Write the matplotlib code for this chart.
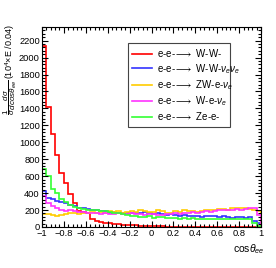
import numpy as np
import matplotlib
matplotlib.use("Agg")
import matplotlib.pyplot as plt
from matplotlib.ticker import MultipleLocator

plt.rcParams['font.family'] = ['Liberation Sans', 'DejaVu Sans']
plt.rcParams['mathtext.fontset'] = 'custom'
plt.rcParams['mathtext.rm'] = 'Liberation Sans'
plt.rcParams['mathtext.it'] = 'Liberation Sans:italic'
plt.rcParams['mathtext.fallback'] = 'stixsans'

# 50 bins of cos(theta_ee) from -1 to 1 (width 0.04)
edges = np.linspace(-1, 1, 51)

ww = [2140, 1420, 1100, 850, 640, 515, 385, 280, 190, 175,
      160, 90, 70, 55, 50, 42, 38, 32, 28, 25,
      20, 18, 15, 12, 10, 8, 7, 6, 5, 4,
      3, 3, 2, 2, 2, 1, 1, 1, 1, 1,
      1, 0, 0, 0, 0, 0, 0, 0, 0, 0]
wwnn = [424, 345, 330, 310, 300, 280, 260, 245, 230, 225,
        210, 200, 195, 185, 190, 170, 175, 165, 170, 160,
        170, 165, 160, 175, 160, 150, 165, 155, 140, 150,
        145, 130, 140, 125, 135, 130, 120, 135, 125, 130,
        115, 125, 120, 110, 115, 120, 110, 115, 70, 50]
zwen = [158, 150, 140, 135, 140, 150, 165, 160, 155, 165,
        170, 175, 165, 180, 170, 185, 175, 190, 170, 180,
        185, 175, 205, 190, 180, 175, 200, 185, 165, 160,
        185, 180, 200, 190, 185, 175, 190, 195, 205, 200,
        210, 215, 205, 225, 230, 220, 225, 215, 200, 190]
wen = [365, 287, 250, 230, 200, 190, 195, 185, 180, 175,
       165, 160, 165, 155, 160, 150, 155, 160, 150, 155,
       160, 150, 155, 145, 150, 155, 140, 145, 150, 150,
       160, 155, 165, 170, 175, 170, 180, 185, 180, 190,
       195, 200, 195, 205, 210, 205, 215, 220, 225, 140]
zee = [680, 600, 450, 400, 330, 290, 260, 240, 230, 215,
       205, 200, 195, 190, 185, 175, 170, 160, 150, 140,
       125, 130, 120, 115, 125, 110, 120, 115, 110, 105,
       110, 100, 105, 100, 105, 100, 95, 100, 95, 100,
       95, 90, 95, 90, 95, 90, 95, 90, 50, 12]

labels = [r'e-e-$\longrightarrow$ W-W-',
          r'e-e-$\longrightarrow$ W-W-$\nu_e\nu_e$',
          r'e-e-$\longrightarrow$ ZW-e-$\nu_e$',
          r'e-e-$\longrightarrow$ W-e-$\nu_e$',
          r'e-e-$\longrightarrow$ Ze-e-']
colors = ['#ff0000', '#3333ff', '#ffcc00', '#ff33ff', '#33ff33']
series = [ww, wwnn, zwen, wen, zee]

fig = plt.figure(figsize=(2.76, 2.68), dpi=100)
ax = fig.add_axes([0.152, 0.153, 0.794, 0.746])

for vals, col, lab in zip(series, colors, labels):
    ax.stairs(vals, edges, color=col, lw=1.2, label=lab)

ax.set_xlim(-1, 1)
ax.set_ylim(0, 2360)
ax.xaxis.set_major_locator(MultipleLocator(0.2))
ax.xaxis.set_minor_locator(MultipleLocator(0.04))
ax.yaxis.set_major_locator(MultipleLocator(200))
ax.yaxis.set_minor_locator(MultipleLocator(40))
ax.tick_params(which='both', direction='in', top=True, right=True,
               labelsize=6.7, width=0.8, pad=1.5)
ax.tick_params(which='major', length=4.5)
ax.tick_params(which='minor', length=2.2)
ax.set_xticks(np.arange(-1, 1.01, 0.2))
ax.set_xticklabels(['\u22121', '\u22120.8', '\u22120.6', '\u22120.4', '\u22120.2',
                    '0', '0.2', '0.4', '0.6', '0.8', '1'])
for s in ax.spines.values():
    s.set_linewidth(0.8)

leg = ax.legend(loc='upper left', bbox_to_anchor=(0.37, 0.945, 0.51, 0.0),
                mode='expand', fontsize=7, handlelength=2.0, handletextpad=0.5,
                labelspacing=0.25, borderpad=0.45, fancybox=False, framealpha=1,
                edgecolor='#444444')
leg.get_frame().set_linewidth(0.8)

# y title: units part on top, fraction below it
fig.text(10.5 / 276, 1 - 24 / 268, r'(10$^{4}$×E /0.04)',
         rotation=90, ha='center', va='top', fontsize=6.5)
fig.text(10.5 / 276, 1 - 80 / 268,
         r'$\dfrac{1}{\sigma}\dfrac{d\sigma}{dcos\theta_{ee}}$',
         rotation=90, ha='center', va='top', fontsize=5.8)
fig.text(265 / 276, 1 - 256 / 268, r'cos$\theta_{ee}$', ha='right', va='bottom',
         fontsize=7.5)

fig.savefig('out.png', dpi=100)
